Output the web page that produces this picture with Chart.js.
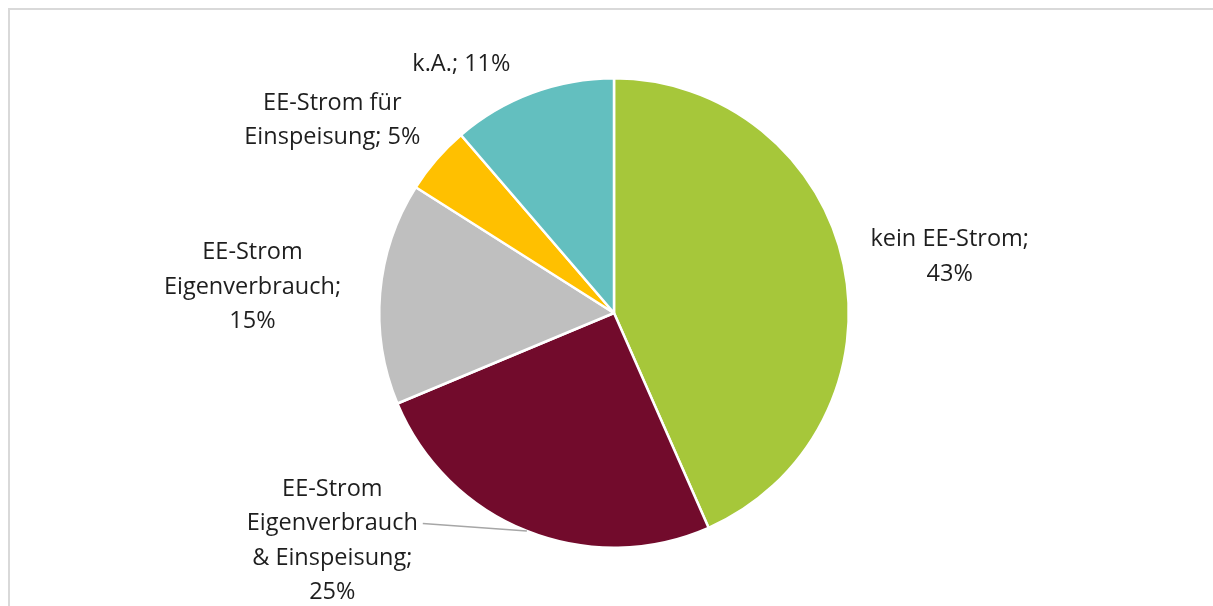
<!DOCTYPE html>
<html>
<head>
<meta charset="utf-8">
<script src="https://cdn.jsdelivr.net/npm/chart.js@4"></script>
<style>
  html, body { margin: 0; padding: 0; background: #fff; }
  #wrap { position: relative; width: 1213px; height: 606px; overflow: hidden; }
  #frame { position: absolute; left: 8px; top: 8px; width: 1300px; height: 700px; border: 2px solid #d9d9d9; }
  canvas { position: absolute; left: 0; top: 0; }
</style>
</head>
<body>
<div id="wrap">
  <div id="frame"></div>
  <canvas id="pie" width="1213" height="606"></canvas>
</div>
<script>
// Slices, clockwise from 12 o'clock
const categories = [
    ['kein EE-Strom;'],
    ['EE-Strom', 'Eigenverbrauch', '& Einspeisung;'],
    ['EE-Strom', 'Eigenverbrauch;'],
    ['EE-Strom für', 'Einspeisung;'],
    ['k.A.;']
];
const shares = [43.4, 25.3, 15.3, 4.7, 11.3];
const colors = ['#a6c73a', '#720b2c', '#bfbfbf', '#ffc000', '#63bfbf'];

// label block centre, as a multiple of the radius from the pie centre
const labelOffsets = [[1.43, -0.24], [-1.20, 0.97], [-1.54, -0.11], [-1.20, -0.82], [-0.65, -1.06]];
// true = percentage goes on its own line
const pctOwnLine = [true, true, true, false, false];

const FONT = '23.5px "Open Sans"';
const LINE_H = 34.5;

const labelPlugin = {
    id: 'sliceLabels',
    afterDatasetsDraw(chart) {
        const ctx = chart.ctx;
        const arcs = chart.getDatasetMeta(0).data;
        const total = shares.reduce((a, b) => a + b, 0);
        ctx.save();
        ctx.font = FONT;
        ctx.fillStyle = '#1e1e1e';
        ctx.textAlign = 'center';
        ctx.textBaseline = 'middle';
        arcs.forEach((arc, i) => {
            const r = arc.outerRadius;
            const cx = arc.x + labelOffsets[i][0] * r;
            const cy = arc.y + labelOffsets[i][1] * r;
            const pct = Math.round(shares[i] / total * 100) + '%';
            const lines = categories[i].slice();
            if (pctOwnLine[i]) lines.push(pct);
            else lines[lines.length - 1] += ' ' + pct;
            const y0 = cy - (lines.length - 1) * LINE_H / 2;
            lines.forEach((t, k) => ctx.fillText(t, cx, y0 + k * LINE_H));

            // leader line for the dark red slice
            if (i === 1) {
                const ly = y0 + LINE_H;
                const lx = cx + ctx.measureText(lines[1]).width / 2 + 5;
                const mid = (arc.startAngle + arc.endAngle) / 2;
                ctx.strokeStyle = '#a6a6a6';
                ctx.lineWidth = 1.5;
                ctx.beginPath();
                ctx.moveTo(lx, ly);
                ctx.lineTo(arc.x + Math.cos(mid) * r, arc.y + Math.sin(mid) * r);
                ctx.stroke();
            }
        });
        ctx.restore();
    }
};

new Chart(document.getElementById('pie').getContext('2d'), {
    type: 'pie',
    data: {
        labels: categories.map(c => c.join(' ')),
        datasets: [{
            data: shares,
            backgroundColor: colors,
            borderColor: '#ffffff',
            borderWidth: 2.5
        }]
    },
    options: {
        responsive: false,
        animation: false,
        layout: { padding: { top: 77, bottom: 57, left: 15, right: 0 } },
        plugins: {
            legend: { display: false },
            tooltip: { enabled: false }
        }
    },
    plugins: [labelPlugin]
});
</script>
</body>
</html>
